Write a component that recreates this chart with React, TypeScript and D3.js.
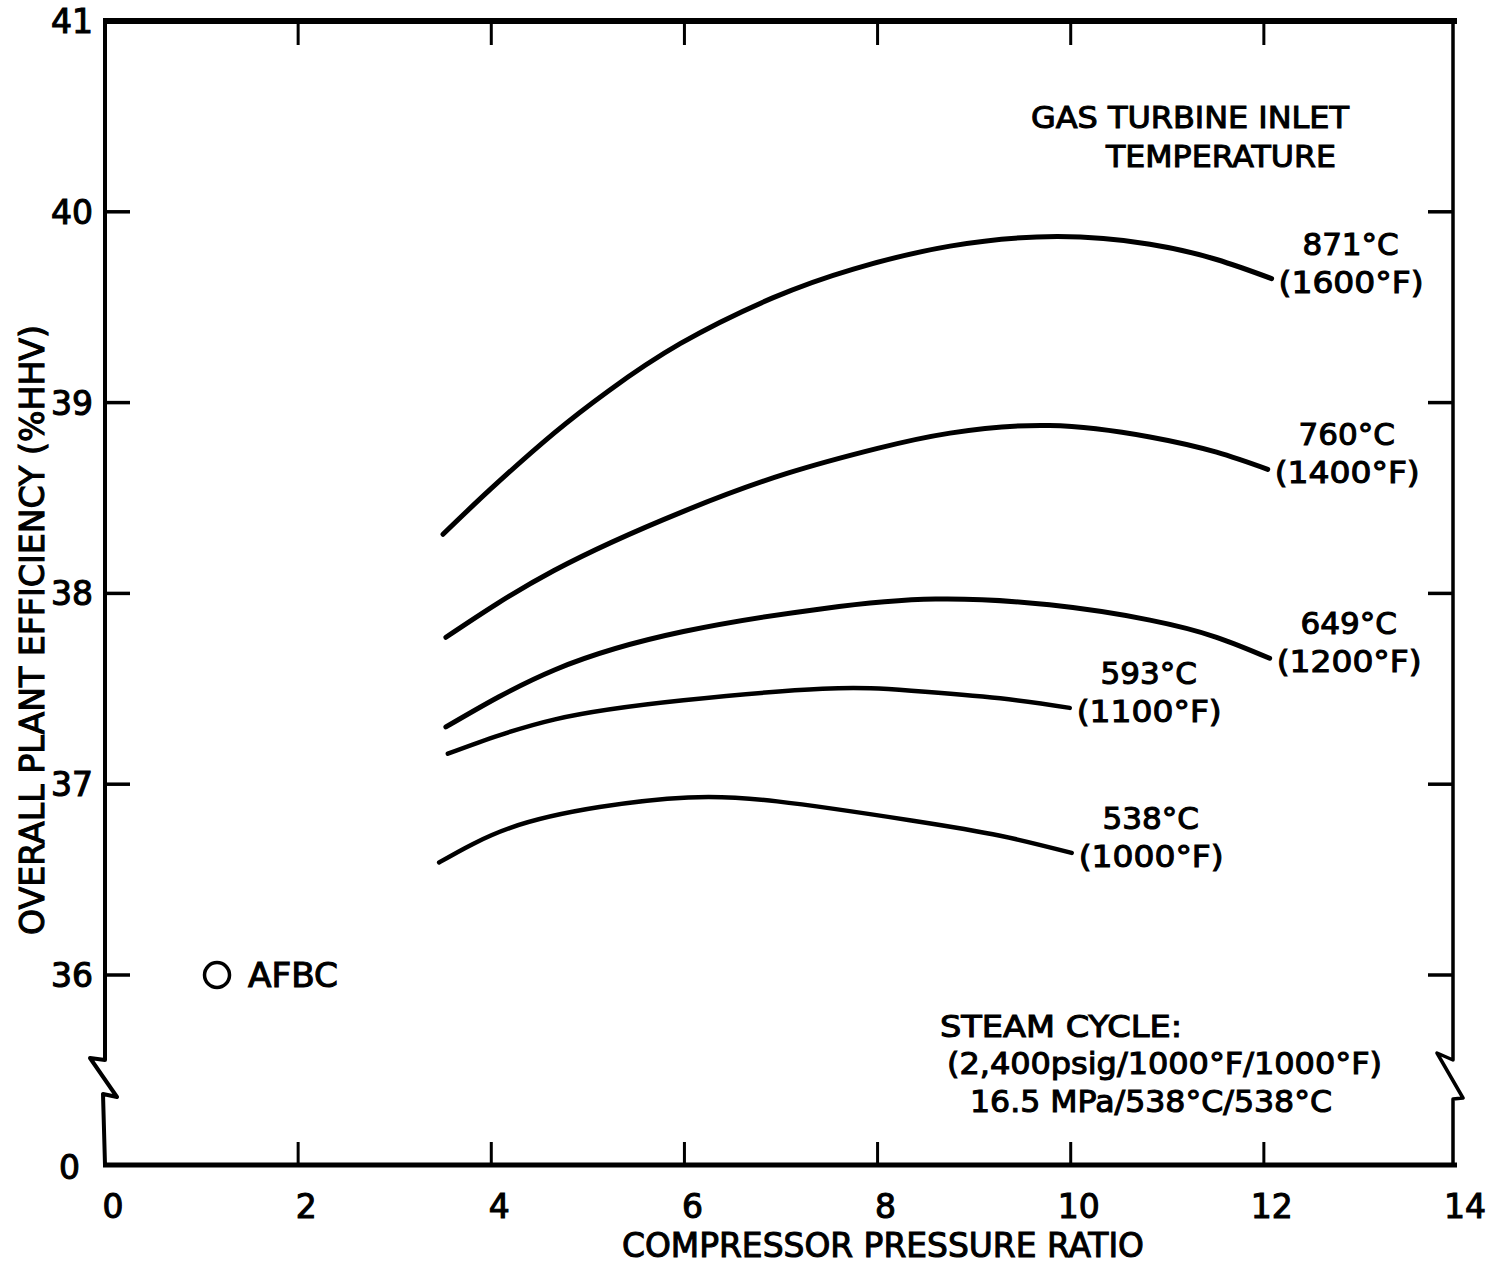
import React, { useEffect } from "react";
import * as d3 from "d3";

// ---------- data ----------
const xTicks = [0, 2, 4, 6, 8, 10, 12, 14];
const yTicks = [36, 37, 38, 39, 40, 41];
const xTitle = "COMPRESSOR PRESSURE RATIO";
const yTitle = "OVERALL PLANT EFFICIENCY (%HHV)";

const x871 = [3.5, 4.0, 4.65, 5.21, 5.96, 6.92, 7.75, 8.75, 9.86, 10.82, 11.51, 12.08];
const y871 = [38.31, 38.55, 38.84, 39.06, 39.31, 39.55, 39.7, 39.82, 39.87, 39.83, 39.75, 39.65];

const x760 = [3.53, 4.65, 5.99, 7.07, 8.0, 8.75, 9.78, 10.82, 11.51, 12.04];
const y760 = [37.77, 38.12, 38.43, 38.63, 38.76, 38.84, 38.88, 38.82, 38.74, 38.65];

const x649 = [3.53, 4.66, 5.99, 7.43, 8.6, 9.78, 10.82, 11.51, 12.06];
const y649 = [37.3, 37.6, 37.8, 37.92, 37.97, 37.94, 37.86, 37.77, 37.66];

const x593 = [3.55, 4.66, 5.99, 7.43, 8.35, 9.27, 9.99];
const y593 = [37.16, 37.34, 37.44, 37.5, 37.49, 37.45, 37.4];

const x538 = [3.46, 4.19, 5.12, 6.04, 6.96, 8.35, 9.27, 10.01];
const y538 = [36.59, 36.77, 36.88, 36.93, 36.91, 36.81, 36.73, 36.64];

const seriesCelsius = ["871°C", "760°C", "649°C", "593°C", "538°C"];
const seriesFahrenheit = ["(1600°F)", "(1400°F)", "(1200°F)", "(1100°F)", "(1000°F)"];

const afbcX = [1.16];
const afbcY = [36.0];
const afbcLabel = "AFBC";

const legendTitle = ["GAS TURBINE INLET", "TEMPERATURE"];
const steamNote = ["STEAM CYCLE:", "(2,400psig/1000°F/1000°F)", "16.5 MPa/538°C/538°C"];

// ---------- layout ----------
const W = 1494;
const H = 1266;
const L = 105;
const R = 1457;
const T = 21;
const B = 1165;
const FONT = "'DejaVu Sans', 'Liberation Sans', sans-serif";

export default function App() {
  useEffect(() => {
    document.body.style.margin = "0";
  }, []);

  const x = d3.scaleLinear().domain([0, 14]).range([L, R]);
  const yHi = d3.scaleLinear().domain([36, 41]).range([975, T]);
  const Y = (v: number) => (v >= 30 ? yHi(v) : B);

  const line = d3
    .line<[number, number]>()
    .x((d) => x(d[0]))
    .y((d) => Y(d[1]))
    .curve(d3.curveNatural);

  const series: [number[], number[]][] = [
    [x871, y871],
    [x760, y760],
    [x649, y649],
    [x593, y593],
    [x538, y538],
  ];

  const breakTop = 1060;
  const breakBot = 1096;

  const leftAxisPath = `M${L},${T} L${L},${breakTop} L${L - 15},${breakTop - 2} L${L + 12},${breakBot + 1} L${L - 2},${breakBot - 2} L${L},${B}`;
  const rightAxisPath = `M${R - 4},${T} L${R - 4},${breakTop} L${R - 20},${breakTop - 7} L${R + 6},${breakBot + 2} L${R - 4},${breakBot + 3} L${R - 4},${B}`;

  const textStyle = {
    fontFamily: FONT,
    fill: "#000",
    stroke: "#000",
    strokeWidth: 1.1,
  } as React.CSSProperties;

  return (
    <svg width={W} height={H} viewBox={`0 0 ${W} ${H}`} style={{ display: "block", background: "#fff" }}>
      <rect x={0} y={0} width={W} height={H} fill="#fff" />
      {/* frame */}
      <line x1={L - 2} y1={T} x2={R} y2={T} stroke="#000" strokeWidth={6} />
      <line x1={L - 2} y1={B} x2={R} y2={B} stroke="#000" strokeWidth={5} />
      <path d={leftAxisPath} fill="none" stroke="#000" strokeWidth={4} strokeLinejoin="round" />
      <path d={rightAxisPath} fill="none" stroke="#000" strokeWidth={3.5} strokeLinejoin="round" />

      {/* x ticks top and bottom */}
      {xTicks
        .filter((t) => t > 0 && t < 14)
        .map((t) => (
          <g key={"xt" + t}>
            <line x1={x(t)} y1={T} x2={x(t)} y2={T + 24} stroke="#000" strokeWidth={3} />
            <line x1={x(t)} y1={B} x2={x(t)} y2={B - 23} stroke="#000" strokeWidth={3} />
          </g>
        ))}
      {/* y ticks left and right */}
      {yTicks
        .filter((t) => t < 41)
        .map((t) => (
          <g key={"yt" + t}>
            <line x1={L} y1={yHi(t)} x2={L + 25} y2={yHi(t)} stroke="#000" strokeWidth={3.5} />
            <line x1={R - 4} y1={yHi(t)} x2={R - 29} y2={yHi(t)} stroke="#000" strokeWidth={3.5} />
          </g>
        ))}

      {/* y tick labels */}
      {yTicks.map((t) => (
        <text key={"yl" + t} x={L - 12} y={yHi(t) + 12} textAnchor="end" fontSize={33} style={textStyle}>
          {t}
        </text>
      ))}
      <text x={L - 25} y={B + 14} textAnchor="end" fontSize={33} style={textStyle}>
        0
      </text>

      {/* x tick labels */}
      {xTicks.map((t) => (
        <text key={"xl" + t} x={x(t) + 8} y={B + 53} textAnchor="middle" fontSize={33} style={textStyle}>
          {t}
        </text>
      ))}

      {/* axis titles */}
      <text
        x={(L + R) / 2 + 102}
        y={B + 92}
        textAnchor="middle"
        fontSize={34}
        textLength={522}
        lengthAdjust="spacingAndGlyphs"
        style={textStyle}
      >
        {xTitle}
      </text>
      <text
        transform={`translate(44, ${630}) rotate(-90)`}
        textAnchor="middle"
        fontSize={34}
        textLength={610}
        lengthAdjust="spacingAndGlyphs"
        style={textStyle}
      >
        {yTitle}
      </text>

      {/* curves */}
      {series.map(([xs, ys], i) => (
        <path
          key={"s" + i}
          d={line(xs.map((v, j) => [v, ys[j]] as [number, number])) || ""}
          fill="none"
          stroke="#000"
          strokeWidth={i < 3 ? 5 : 4.5}
          strokeLinecap="round"
        />
      ))}

      {/* curve labels */}
      {series.map(([xs, ys], i) => {
        const ex = x(xs[xs.length - 1]);
        const ey = Y(ys[ys.length - 1]);
        const fx = ex + 7;
        const fb = ey + 14;
        return (
          <g key={"lab" + i}>
            <text
              x={fx}
              y={fb}
              fontSize={31}
              textLength={145}
              lengthAdjust="spacingAndGlyphs"
              style={textStyle}
            >
              {seriesFahrenheit[i]}
            </text>
            <text x={fx + 72} y={fb - 38} textAnchor="middle" fontSize={31} style={textStyle}>
              {seriesCelsius[i]}
            </text>
          </g>
        );
      })}

      {/* legend title */}
      <text x={1349} y={128} textAnchor="end" fontSize={31} textLength={318} lengthAdjust="spacingAndGlyphs" style={textStyle}>
        {legendTitle[0]}
      </text>
      <text x={1336} y={167} textAnchor="end" fontSize={31} textLength={230} lengthAdjust="spacingAndGlyphs" style={textStyle}>
        {legendTitle[1]}
      </text>

      {/* AFBC point */}
      {afbcX.map((v, i) => (
        <g key={"afbc" + i}>
          <circle cx={x(v)} cy={yHi(afbcY[i])} r={12.5} fill="none" stroke="#000" strokeWidth={3.5} />
          <text x={x(v) + 31} y={yHi(afbcY[i]) + 12} fontSize={33} textLength={90} lengthAdjust="spacingAndGlyphs" style={textStyle}>
            {afbcLabel}
          </text>
        </g>
      ))}

      {/* steam cycle note */}
      <text x={940} y={1037} fontSize={31} textLength={242} lengthAdjust="spacingAndGlyphs" style={textStyle}>
        {steamNote[0]}
      </text>
      <text x={947} y={1074} fontSize={31} textLength={435} lengthAdjust="spacingAndGlyphs" style={textStyle}>
        {steamNote[1]}
      </text>
      <text x={970} y={1112} fontSize={31} textLength={362} lengthAdjust="spacingAndGlyphs" style={textStyle}>
        {steamNote[2]}
      </text>
    </svg>
  );
}
